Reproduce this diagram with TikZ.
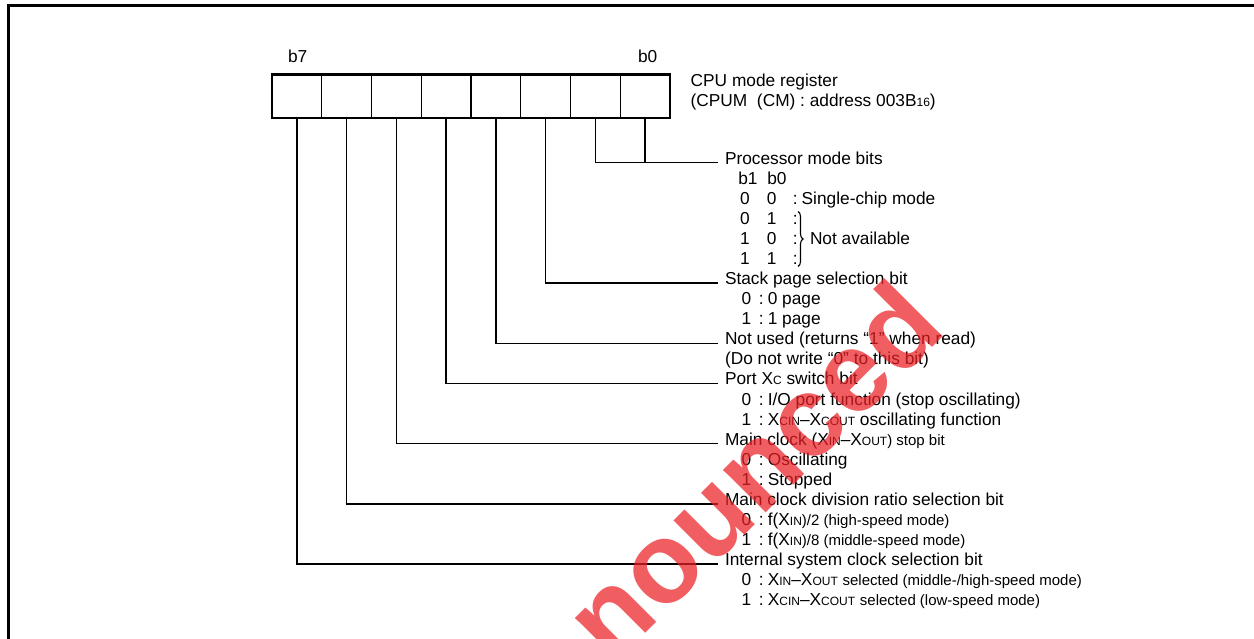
\documentclass[tikz,border=0pt]{standalone}
\usepackage{fontspec}
\setmainfont{Liberation Sans}
\usetikzlibrary{decorations.pathreplacing}
\definecolor{wmred}{RGB}{236,32,38}
\newcommand{\mainsz}{\fontsize{17.3}{20}\selectfont}
\newcommand{\subcap}[1]{{\fontsize{12}{12}\selectfont #1}}
\newcommand{\smtext}[1]{{\fontsize{15}{15}\selectfont #1}}
\newcommand{\vrow}[2]{\makebox[17.5pt][l]{#1}:\hspace{4pt}#2}
\begin{document}
\begin{tikzpicture}[x=1pt,y=-1pt,
  txt/.style={anchor=base west, inner sep=0pt, outer sep=0pt, font=\mainsz},
  cell/.style={draw, line width=1.2pt, minimum width=49.75pt, minimum height=43.7pt, inner sep=0pt, outer sep=0pt},
  conn/.style={line width=1.3pt},
  frameline/.style={line width=2.6pt},
  wmark/.style={rotate=45, text=wmred, opacity=0.72, inner sep=0pt, font=\fontsize{114}{114}\selectfont\bfseries}
]
\useasboundingbox (0,0) rectangle (1254,639);
% frame
\coordinate (fbl) at (8.5,639);
\coordinate (ftl) at (8.5,5.6);
\coordinate (ftr) at (1254,5.6);
\draw[frameline] (fbl) -- (ftl) -- (ftr);

% register cells
\node[cell] (c7) at (296.875,96.15) {};
\node[cell] (c6) at (346.625,96.15) {};
\node[cell] (c5) at (396.375,96.15) {};
\node[cell] (c4) at (446.125,96.15) {};
\node[cell] (c3) at (495.875,96.15) {};
\node[cell] (c2) at (545.625,96.15) {};
\node[cell] (c1) at (595.375,96.15) {};
\node[cell] (c0) at (645.125,96.15) {};
\draw[line width=2.5pt] (c7.north west) rectangle (c0.south east);

\node[txt] (lb7) at (288,63) {b7};
\node[txt] (lb0) at (638,63) {b0};
\node[txt] (title1) at (690.7,87) {CPU mode register};
\node[txt] (title2) at (690.7,107) {(CPUM\ \ (CM) : address 003B\subcap{16})};

% connector end points
\coordinate (e0) at (718.3,162.7);
\coordinate (e6) at (718.3,283.1);
\coordinate (e9) at (718.3,343.3);
\coordinate (e11) at (718.3,383.5);
\coordinate (e14) at (718.3,443.7);
\coordinate (e17) at (718.3,503.9);
\coordinate (e20) at (718.3,564.1);

\draw[conn] (c1.south) |- (e0);
\draw[conn] (c0.south) -- (c0.south |- e0);
\draw[conn] (c2.south) |- (e6);
\draw[conn] (c3.south) |- (e9);
\draw[conn] (c4.south) |- (e11);
\draw[conn] (c5.south) |- (e14);
\draw[conn] (c6.south) |- (e17);
\draw[conn] (c7.south) |- (e20);

% texts
\node[txt] (n0) at (725,164.2) {Processor mode bits};
\node[txt] (n1) at (738.3,184.27) {\makebox[29pt][l]{b1}b0};
\node[txt] (n2) at (740,204.34) {\makebox[27pt][l]{0}\makebox[26pt][l]{0}:\hspace{3.9pt}Single-chip mode};
\node[txt] (n3) at (740,224.41) {\makebox[27pt][l]{0}\makebox[26pt][l]{1}:};
\node[txt] (n4) at (740,244.48) {\makebox[27pt][l]{1}\makebox[26pt][l]{0}:};
\node[txt] (n5) at (740,264.55) {\makebox[27pt][l]{1}\makebox[26pt][l]{1}:};
\coordinate (brt) at (798,211.5);
\coordinate (brb) at (798,266.5);
\draw[line width=1.1pt, decorate, decoration={brace, amplitude=5pt}] (brt) -- (brb);
\node[txt] (n4b) at (810,244.48) {Not available};

\node[txt] (n6) at (725,284.62) {Stack page selection bit};
\node[txt] (n7) at (741.5,304.69) {\vrow{0}{0 page}};
\node[txt] (n8) at (741.5,324.76) {\vrow{1}{1 page}};
\node[txt] (n9) at (725,344.83) {Not used (returns “1” when read)};
\node[txt] (n10) at (725,364.9) {(Do not write “0” to this bit)};
\node[txt] (n11) at (725,384.97) {Port X\subcap{C} switch bit};
\node[txt] (n12) at (741.5,405.04) {\vrow{0}{I/O port function (stop oscillating)}};
\node[txt] (n13) at (741.5,425.11) {\vrow{1}{X\subcap{CIN}–X\subcap{COUT} oscillating function}};
\node[txt] (n14) at (725,445.18) {Main clock (X\subcap{IN}–X\subcap{OUT}\smtext{) stop bit}};
\node[txt] (n15) at (741.5,465.25) {\vrow{0}{Oscillating}};
\node[txt] (n16) at (741.5,485.32) {\vrow{1}{Stopped}};
\node[txt] (n17) at (725,505.39) {Main clock division ratio selection bit};
\node[txt] (n18) at (741.5,525.46) {\vrow{0}{f(X\subcap{IN}\smtext{)/2 (high-speed mode)}}};
\node[txt] (n19) at (741.5,545.53) {\vrow{1}{f(X\subcap{IN}\smtext{)/8 (middle-speed mode)}}};
\node[txt] (n20) at (725,565.6) {Internal system clock selection bit};
\node[txt] (n21) at (741.5,585.67) {\vrow{0}{X\subcap{IN}–X\subcap{OUT} \smtext{selected (middle-/high-speed mode)}}};
\node[txt] (n22) at (741.5,605.74) {\vrow{1}{X\subcap{CIN}–X\subcap{COUT} \smtext{selected (low-speed mode)}}};

% watermark
\node[wmark] (wm) at (752,470) {nounced};
\end{tikzpicture}
\end{document}
